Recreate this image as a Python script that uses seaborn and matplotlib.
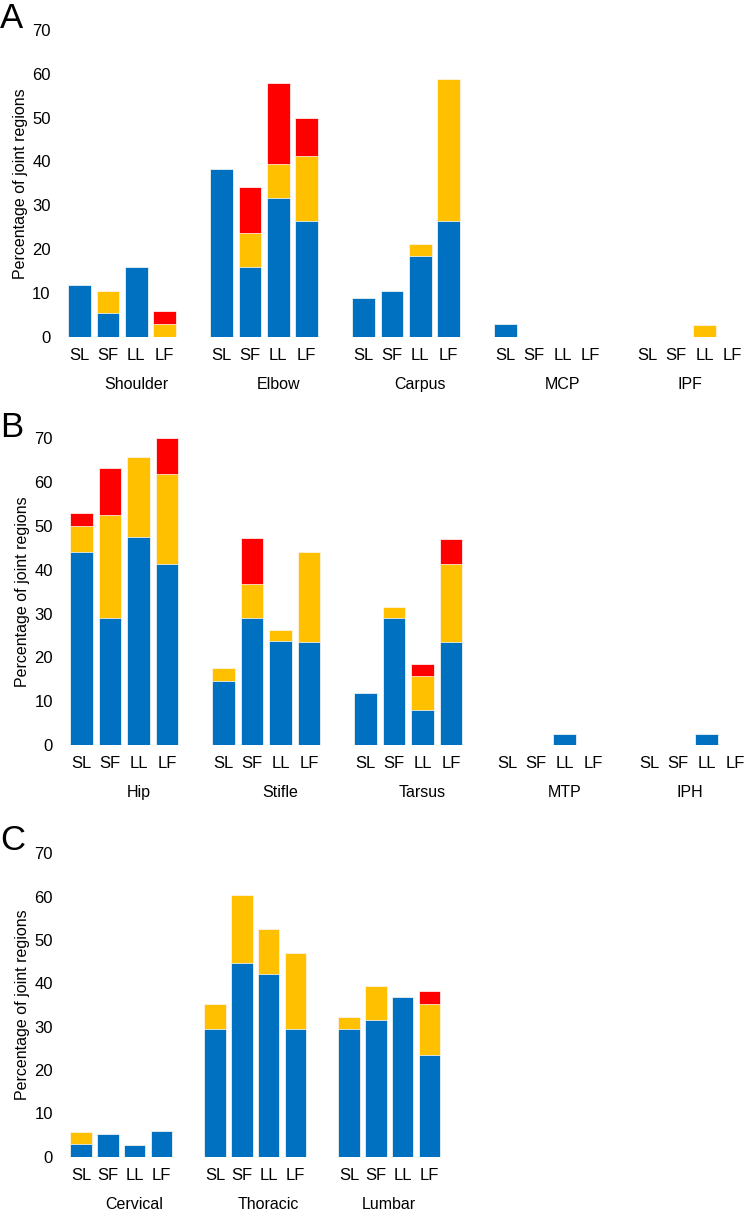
import numpy as np
import pandas as pd
import matplotlib
matplotlib.use("Agg")
import matplotlib.pyplot as plt
import seaborn as sns

sns.set_theme(style="white")
plt.rcParams["font.family"] = ["Liberation Sans", "DejaVu Sans"]
plt.rcParams["text.color"] = "black"
plt.rcParams["axes.labelcolor"] = "black"

# ---- data (percent of joint regions, per segment) ----
categories = ["SL", "SF", "LL", "LF"]

joints_a = ["Shoulder", "Elbow", "Carpus", "MCP", "IPF"]
blue_a = [11.8, 5.3, 15.8, 0, 38.2, 15.8, 31.6, 26.5, 8.8, 10.5, 18.4, 26.5,
          2.9, 0, 0, 0, 0, 0, 0, 0]
yellow_a = [0, 5.2, 0, 2.9, 0, 7.9, 7.9, 14.7, 0, 0, 2.7, 32.3,
            0, 0, 0, 0, 0, 0, 2.6, 0]
red_a = [0, 0, 0, 2.9, 0, 10.5, 18.4, 8.8, 0, 0, 0, 0,
         0, 0, 0, 0, 0, 0, 0, 0]

joints_b = ["Hip", "Stifle", "Tarsus", "MTP", "IPH"]
blue_b = [44.1, 28.9, 47.4, 41.2, 14.7, 28.9, 23.7, 23.5, 11.8, 28.9, 7.9, 23.5,
          0, 0, 2.6, 0, 0, 0, 2.6, 0]
yellow_b = [5.9, 23.7, 18.4, 20.6, 2.9, 7.9, 2.6, 20.6, 0, 2.7, 7.9, 17.7,
            0, 0, 0, 0, 0, 0, 0, 0]
red_b = [2.9, 10.5, 0, 8.2, 0, 10.5, 0, 0, 0, 0, 2.6, 5.9,
         0, 0, 0, 0, 0, 0, 0, 0]

joints_c = ["Cervical", "Thoracic", "Lumbar"]
blue_c = [2.9, 5.3, 2.6, 5.9, 29.4, 44.7, 42.1, 29.4, 29.4, 31.6, 36.8, 23.5]
yellow_c = [2.9, 0, 0, 0, 5.9, 15.8, 10.5, 17.6, 2.9, 7.9, 0, 11.8]
red_c = [0, 0, 0, 0, 0, 0, 0, 0, 0, 0, 0, 2.9]

BLUE = "#0070C0"
YELLOW = "#FFC000"
RED = "#FF0000"


def make_frame(joints, blue, yellow, red):
    """long table with one row per bar, slot position leaves a gap between joints"""
    rows = []
    for g, joint in enumerate(joints):
        for c, cat in enumerate(categories):
            i = g * 4 + c
            rows.append(dict(joint=joint, cat=cat, pos=g * 5 + c,
                             blue=blue[i], yellow=yellow[i], red=red[i]))
    df = pd.DataFrame(rows)
    df["blue_yellow"] = df["blue"] + df["yellow"]
    df["total"] = df["blue_yellow"] + df["red"]
    return df


def draw_panel(ax, df, joints, label_x, xmax):
    # stacked bars: draw totals first, then overlay the lower segments
    for col, color in [("total", RED), ("blue_yellow", YELLOW), ("blue", BLUE)]:
        sns.barplot(data=df, x="pos", y=col, native_scale=True, color=color,
                    saturation=1, width=0.8, errorbar=None,
                    edgecolor="white", linewidth=0.5, ax=ax)
    ax.set_xlim(-0.5, xmax)
    ax.set_ylim(0, 70)
    ax.set_yticks(range(0, 71, 10))
    ax.set_xticks(df["pos"])
    ax.set_xticklabels(df["cat"])
    ax.tick_params(axis="x", length=0, pad=8, labelsize=12, colors="black")
    ax.tick_params(axis="y", length=0, pad=10.5, labelsize=12, colors="black")
    ax.set_xlabel("")
    ax.set_ylabel("Percentage of joint regions", fontsize=11.5, color="black")
    ax.yaxis.set_label_coords(-0.055, 0.5)
    for x, joint in zip(label_x, joints):
        ax.annotate(joint, xy=(x, 0), xycoords=("data", "axes fraction"),
                    xytext=(0, -34.5), textcoords="offset points",
                    ha="center", va="center", fontsize=11.5, color="black")
    sns.despine(ax=ax, left=True, bottom=True)


fig = plt.figure(figsize=(7.44, 12.12), dpi=100)
ax_a = fig.add_axes([0.0878, 0.7222, 0.9086, 0.2531])
ax_b = fig.add_axes([0.0907, 0.3853, 0.9086, 0.2531])
ax_c = fig.add_axes([0.0909, 0.0456, 0.9086, 0.2503])

draw_panel(ax_a, make_frame(joints_a, blue_a, yellow_a, red_a), joints_a,
           [2, 7, 12, 17, 21.5], 23.3)
draw_panel(ax_b, make_frame(joints_b, blue_b, yellow_b, red_b), joints_b,
           [2, 7, 12, 17, 21.4], 23.3)
draw_panel(ax_c, make_frame(joints_c, blue_c, yellow_c, red_c), joints_c,
           [2, 7, 11.5], 24.72)

for letter, y in [("A", 0.985), ("B", 0.6475), ("C", 0.3065)]:
    fig.text(0.0, y, letter, fontsize=25, va="center", ha="left", color="black")

fig.savefig("out.png", dpi=100)
